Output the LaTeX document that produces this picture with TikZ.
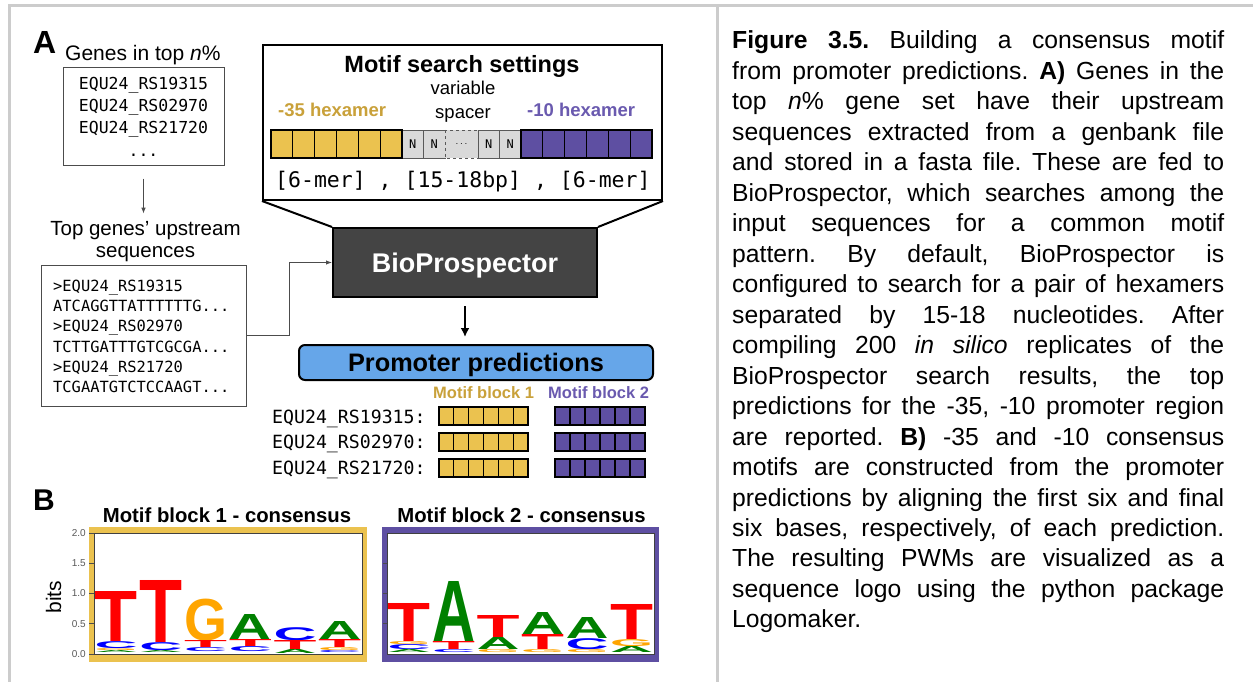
\documentclass[tikz,border=0pt]{standalone}
\usepackage{fontspec}
\setmainfont{Liberation Sans}
\newfontfamily\monof{DejaVu Sans Mono}
\usetikzlibrary{arrows.meta}
\definecolor{bordergray}{HTML}{CCCCCC}
\definecolor{goldfill}{HTML}{EBC24F}
\definecolor{goldtext}{HTML}{C9A13A}
\definecolor{purpfill}{HTML}{5E4FA2}
\definecolor{purptext}{HTML}{6A5AAF}
\definecolor{spacergray}{HTML}{D9D9D9}
\definecolor{bluefill}{HTML}{66A6E9}
\definecolor{biogray}{HTML}{444444}
\definecolor{lred}{HTML}{FF0000}
\definecolor{lgreen}{HTML}{008000}
\definecolor{lblue}{HTML}{0000FF}
\definecolor{lorange}{HTML}{FFA500}
\newcounter{lgc}
\newcommand\fs[1]{\fontsize{#1}{#1}\selectfont}
% x, bottom, height, width, letter, colour
\newcommand\lgl[6]{\stepcounter{lgc}%
  \node[anchor=south west,inner sep=0pt,text=#6] (lg\the\value{lgc}) at (#1,#2) {\resizebox*{#4pt}{#3pt}{\bfseries #5}};}
\frenchspacing
\begin{document}
\begin{tikzpicture}[x=1pt,y=-1pt,
  txt/.style={inner sep=0pt,anchor=base},
  graybox/.style={draw=black!70,line width=1pt,inner sep=0pt},
  grayarrow/.style={draw=black!70,line width=1pt,-{Latex[length=6pt,width=4.5pt]}},
  goldcell/.style={fill=goldfill,draw=black,line width=1.3pt},
  purpcell/.style={fill=purpfill,draw=black,line width=1.3pt},
  spcell/.style={fill=spacergray,draw=black!65,line width=0.8pt}]
\useasboundingbox (0,0) rectangle (1253,682);
\fill[white] (0,0) rectangle (1253,682);
% frame
\draw[bordergray,line width=3pt] (8,6) -- (1253,6);
\draw[bordergray,line width=3pt] (9,6) -- (9,682);
\draw[bordergray,line width=3pt] (717,6) -- (717,682);

% ---------- Panel A ----------
\node[txt,anchor=base west,font=\bfseries\fs{32}] (labA) at (33,54) {A};
\node[txt,anchor=base west,font=\fs{21}] (genes) at (65,61) {Genes in top \textit{n}\%};
\node[graybox,minimum width=161pt,minimum height=98pt] (box1) at (143.5,117) {};
\node[txt,font=\monof\fs{16.5}] (g1) at (143.5,90) {EQU24\_RS19315};
\node[txt,font=\monof\fs{16.5}] (g2) at (143.5,111.7) {EQU24\_RS02970};
\node[txt,font=\monof\fs{16.5}] (g3) at (143.5,133.3) {EQU24\_RS21720};
\node[txt,font=\monof\fs{16.5}] (g4) at (143.5,156.5) {...};

\node[txt,font=\fs{20.5}] (topg1) at (145.5,235) {Top genes' upstream};
\node[txt,font=\fs{20.5}] (topg2) at (145.5,257) {sequences};
\draw[grayarrow,shorten <=12pt,shorten >=7pt] (box1.south) -- (box1.south |- topg1.north);

\node[graybox,minimum width=205pt,minimum height=141pt] (box2) at (143.5,335.5) {};
\node[txt,anchor=base west,font=\monof\fs{15.4}] (s1) at (53,291) {>EQU24\_RS19315};
\node[txt,anchor=base west,font=\monof\fs{15.4}] (s2) at (53,311.3) {ATCAGGTTATTTTTTG...};
\node[txt,anchor=base west,font=\monof\fs{15.4}] (s3) at (53,331.6) {>EQU24\_RS02970};
\node[txt,anchor=base west,font=\monof\fs{15.4}] (s4) at (53,352) {TCTTGATTTGTCGCGA...};
\node[txt,anchor=base west,font=\monof\fs{15.4}] (s5) at (53,372.3) {>EQU24\_RS21720};
\node[txt,anchor=base west,font=\monof\fs{15.4}] (s6) at (53,392.6) {TCGAATGTCTCCAAGT...};

% settings callout
\node[draw,line width=2pt,minimum width=399pt,minimum height=155pt,inner sep=0pt] (settings) at (462.5,122.5) {};
\node[draw,fill=biogray,line width=2pt,minimum width=264pt,minimum height=69pt,text=white,
      font=\bfseries\fs{27},text depth=0pt] (bio) at (465,262.5) {BioProspector};
\draw[line width=2pt] (settings.south west) -- (bio.north west);
\draw[line width=2pt] (settings.south east) -- (bio.north east);

\node[txt,font=\bfseries\fs{23.5}] (setT) at (462,73) {Motif search settings};
\node[txt,anchor=base west,font=\bfseries\fs{18.5},text=goldtext] (h35) at (278,117) {-35 hexamer};
\node[txt,font=\fs{18.5}] (var1) at (463,95) {variable};
\node[txt,font=\fs{18.5}] (var2) at (463,119) {spacer};
\node[txt,anchor=base west,font=\bfseries\fs{18.5},text=purptext] (h10) at (527,117) {-10 hexamer};

\foreach \i in {0,...,5} \draw[goldcell] ({271+\i*21.83},130) rectangle ++(21.83,28);
\foreach \x [count=\k] in {402,423.5,478,499.5} {
  \draw[spcell] (\x,130) rectangle ++(21.5,28);
  \node[font=\monof\fs{12},inner sep=0pt] (sN\k) at (\x+10.75,144) {N};
}
\draw[spcell,dashed] (445,130) rectangle (478,158);
\node[inner sep=0pt] (sdots) at (461.5,144) {$\cdots$};
\foreach \i in {0,...,5} \draw[purpcell] ({521+\i*21.83},130) rectangle ++(21.83,28);
\draw[line width=2.2pt] (271,130) rectangle (402,158);
\draw[line width=2.2pt] (521,130) rectangle (652,158);
\node[txt,anchor=base west,font=\monof\fs{21.5}] (merlab) at (275,187) {[6-mer] , [15-18bp] , [6-mer]};

\draw[grayarrow] (box2.east) -- ++(43,0) |- (bio.west);

% promoter predictions
\node[draw,fill=bluefill,line width=2pt,rounded corners=6pt,minimum width=354pt,minimum height=35pt,
      font=\bfseries\fs{25.3},text depth=0pt] (prom) at (476,362.5) {Promoter predictions};
\draw[line width=2pt,-{Latex[length=9pt,width=9pt]},shorten <=8pt,shorten >=7pt] (bio.south) -- (bio.south |- prom.north);

\node[txt,anchor=base west,font=\bfseries\fs{16.5},text=goldtext] (mb1) at (433,398) {Motif block 1};
\node[txt,anchor=base west,font=\bfseries\fs{16.5},text=purptext] (mb2) at (548,398) {Motif block 2};
\node[txt,anchor=base west,font=\monof\fs{18.2}] (p1) at (272,423) {EQU24\_RS19315:};
\node[txt,anchor=base west,font=\monof\fs{18.2}] (p2) at (272,448.5) {EQU24\_RS02970:};
\node[txt,anchor=base west,font=\monof\fs{18.2}] (p3) at (272,474) {EQU24\_RS21720:};
\foreach \y in {407,433,458.5} {
  \foreach \i in {0,...,5} {
    \draw[goldcell,line width=1.1pt] ({439+\i*14.83},\y) rectangle ++(14.83,18);
    \draw[purpcell,line width=1.1pt] ({555+\i*15},\y) rectangle ++(15,18);
  }
  \draw[line width=2pt] (439,\y) rectangle ++(89,18);
  \draw[line width=2pt] (555,\y) rectangle ++(90,18);
}

% ---------- Panel B ----------
\node[txt,anchor=base west,font=\bfseries\fs{30}] (labB) at (33,510) {B};
\node[txt,font=\bfseries\fs{20.3}] (t1) at (227,522) {Motif block 1 - consensus};
\node[txt,font=\bfseries\fs{20.3}] (t2) at (521.5,522) {Motif block 2 - consensus};

\fill[goldfill] (89,527) rectangle (367,662);
\fill[white] (94,533) rectangle (362,654);
\fill[purpfill] (382,527) rectangle (659,662);
\fill[white] (387,533) rectangle (654,654);

\foreach \v/\y [count=\k] in {2.0/533,1.5/563.3,1.0/593.5,0.5/623.8,0.0/654} {
  \draw[black!70,line width=0.8pt] (89,\y) -- (94,\y);
  \node[font=\fs{10},text=black!65,anchor=east,inner sep=0pt] (ax\k) at (86,\y) {\v};
}
\foreach \y in {563.3,593.5,623.8} \draw[black!70,line width=0.8pt] (383,\y) -- (387,\y);
\node[rotate=90,font=\fs{21},inner sep=0pt] (bits) at (53.5,597) {bits};

% logo 1
\lgl{94.5}{642}{50}{43}{T}{lred}
\lgl{94.5}{649}{7}{43}{C}{lblue}
\lgl{94.5}{651}{2}{43}{G}{lorange}
\lgl{94.5}{653}{2}{43}{A}{lgreen}
\lgl{139.2}{643}{62}{43}{T}{lred}
\lgl{139.2}{651}{8}{43}{C}{lblue}
\lgl{139.2}{653}{2}{43}{A}{lgreen}
\lgl{183.9}{641}{42}{43}{G}{lorange}
\lgl{183.9}{648}{7}{43}{T}{lred}
\lgl{183.9}{652}{4}{43}{C}{lblue}
\lgl{228.6}{640}{25}{43}{A}{lgreen}
\lgl{228.6}{647}{7}{43}{T}{lred}
\lgl{228.6}{652}{5}{43}{C}{lblue}
\lgl{273.3}{641}{13}{43}{C}{lblue}
\lgl{273.3}{650}{9}{43}{T}{lred}
\lgl{273.3}{654}{4}{43}{A}{lgreen}
\lgl{318}{640}{18}{43}{A}{lgreen}
\lgl{318}{648}{8}{43}{T}{lred}
\lgl{318}{651}{3}{43}{G}{lorange}
\lgl{318}{653}{2}{43}{C}{lblue}
% logo 2
\lgl{387.5}{642}{38}{43}{T}{lred}
\lgl{387.5}{645}{3}{43}{G}{lorange}
\lgl{387.5}{650}{5}{43}{C}{lblue}
\lgl{387.5}{653}{3}{43}{A}{lgreen}
\lgl{432}{642}{60}{43}{A}{lgreen}
\lgl{432}{650}{8}{43}{T}{lred}
\lgl{432}{653}{3}{43}{C}{lblue}
\lgl{476.5}{638}{22}{43}{T}{lred}
\lgl{476.5}{650}{12}{43}{A}{lgreen}
\lgl{476.5}{653}{3}{43}{G}{lorange}
\lgl{521}{635}{22}{43}{A}{lgreen}
\lgl{521}{650}{15}{43}{T}{lred}
\lgl{521}{653}{3}{43}{G}{lorange}
\lgl{565.5}{639}{21}{43}{A}{lgreen}
\lgl{565.5}{650}{11}{43}{C}{lblue}
\lgl{565.5}{653}{3}{43}{G}{lorange}
\lgl{610}{640}{35}{43}{T}{lred}
\lgl{610}{647}{7}{43}{G}{lorange}
\lgl{610}{653}{6}{43}{A}{lgreen}

\draw[black!75,line width=0.8pt] (94,533) rectangle (362,654);
\draw[black!75,line width=0.8pt] (387,533) rectangle (654,654);

% ---------- caption ----------
\node[anchor=base west,inner sep=0pt] (caption) at (732,49) {\parbox[t]{492pt}{\fontsize{24.7}{30.47}\selectfont
\makebox[492pt][s]{\textbf{Figure 3.5.} Building a consensus motif}\\
\makebox[492pt][s]{from promoter predictions. \textbf{A)} Genes in the}\\
\makebox[492pt][s]{top \textit{n}\% gene set have their upstream}\\
\makebox[492pt][s]{sequences extracted from a genbank file}\\
\makebox[492pt][s]{and stored in a fasta file. These are fed to}\\
\makebox[492pt][s]{BioProspector, which searches among the}\\
\makebox[492pt][s]{input sequences for a common motif}\\
\makebox[492pt][s]{pattern. By default, BioProspector is}\\
\makebox[492pt][s]{configured to search for a pair of hexamers}\\
\makebox[492pt][s]{separated by 15-18 nucleotides. After}\\
\makebox[492pt][s]{compiling 200 \textit{in silico} replicates of the}\\
\makebox[492pt][s]{BioProspector search results, the top}\\
\makebox[492pt][s]{predictions for the -35, -10 promoter region}\\
\makebox[492pt][s]{are reported. \textbf{B)} -35 and -10 consensus}\\
\makebox[492pt][s]{motifs are constructed from the promoter}\\
\makebox[492pt][s]{predictions by aligning the first six and final}\\
\makebox[492pt][s]{six bases, respectively, of each prediction.}\\
\makebox[492pt][s]{The resulting PWMs are visualized as a}\\
\makebox[492pt][s]{sequence logo using the python package}\\
Logomaker.}};
\end{tikzpicture}
\end{document}
